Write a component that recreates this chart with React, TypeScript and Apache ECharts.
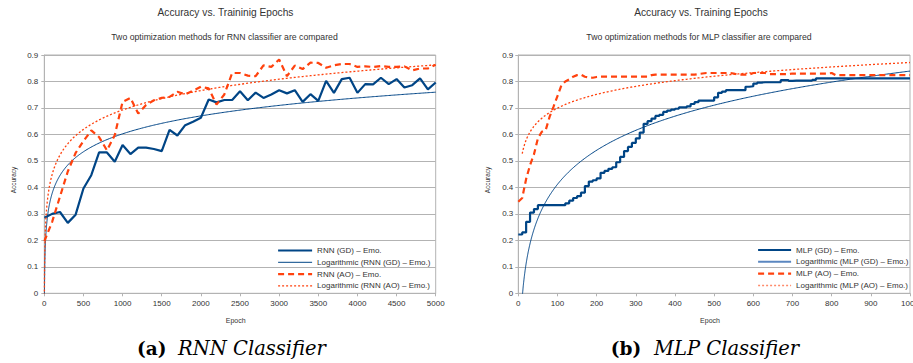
import React, { useEffect, useRef } from 'react';
import * as echarts from 'echarts';

// ---------- RNN classifier (left chart) ----------
const rnnEpochs = [1, 100, 200, 300, 400, 500, 600, 700, 800, 900, 1000, 1100, 1200, 1300, 1400, 1500, 1600, 1700, 1800, 1900, 2000,
  2100, 2200, 2300, 2400, 2500, 2600, 2700, 2800, 2900, 3000, 3100, 3200, 3300, 3400, 3500, 3600, 3700, 3800, 3900, 4000,
  4100, 4200, 4300, 4400, 4500, 4600, 4700, 4800, 4900, 5000];
const rnnGD = [0.285, 0.30, 0.307, 0.266, 0.297, 0.396, 0.446, 0.532, 0.532, 0.497, 0.56, 0.526, 0.55, 0.55, 0.545, 0.537, 0.617, 0.596, 0.635, 0.648, 0.663,
  0.732, 0.721, 0.73, 0.73, 0.763, 0.729, 0.758, 0.738, 0.751, 0.767, 0.755, 0.767, 0.723, 0.752, 0.727, 0.802, 0.757, 0.809, 0.814, 0.757,
  0.79, 0.789, 0.814, 0.79, 0.809, 0.777, 0.786, 0.812, 0.77, 0.796];
const rnnAO = [0.197, 0.27, 0.365, 0.46, 0.53, 0.575, 0.615, 0.59, 0.54, 0.597, 0.723, 0.738, 0.679, 0.711, 0.729, 0.738, 0.742, 0.761, 0.751, 0.765, 0.78,
  0.774, 0.713, 0.751, 0.832, 0.832, 0.822, 0.82, 0.861, 0.855, 0.883, 0.82, 0.86, 0.847, 0.871, 0.87, 0.852, 0.861, 0.866, 0.866, 0.855,
  0.857, 0.855, 0.858, 0.855, 0.855, 0.857, 0.842, 0.849, 0.849, 0.863];

// ---------- MLP classifier (right chart) ----------
const mlpEpochs = [0, 10, 20, 30, 40, 50, 60, 70, 80, 90, 100, 110, 120, 130, 140, 150, 160, 170, 180, 190, 200,
  210, 220, 230, 240, 250, 260, 270, 280, 290, 300, 310, 320, 330, 340, 350, 360, 370, 380, 390, 400,
  410, 420, 430, 440, 450, 460, 470, 480, 490, 500, 510, 520, 530, 540, 550, 560, 570, 580, 590, 600,
  610, 620, 630, 640, 650, 660, 670, 680, 690, 700, 710, 720, 730, 740, 750, 760, 770, 780, 790, 800,
  810, 820, 830, 840, 850, 860, 870, 880, 890, 900, 910, 920, 930, 940, 950, 960, 970, 980, 990, 1000];
const mlpGD = [0.222, 0.23, 0.27, 0.305, 0.318, 0.333, 0.333, 0.333, 0.333, 0.333, 0.333, 0.333, 0.34, 0.35, 0.36, 0.367, 0.38, 0.405, 0.422, 0.427, 0.434,
  0.455, 0.462, 0.47, 0.476, 0.495, 0.515, 0.537, 0.553, 0.568, 0.585, 0.607, 0.64, 0.65, 0.66, 0.67, 0.674, 0.685, 0.69, 0.694, 0.697,
  0.702, 0.702, 0.706, 0.715, 0.722, 0.728, 0.728, 0.728, 0.728, 0.74, 0.757, 0.762, 0.767, 0.767, 0.767, 0.767, 0.767, 0.78, 0.782, 0.792,
  0.796, 0.797, 0.797, 0.797, 0.797, 0.797, 0.805, 0.805, 0.802, 0.803, 0.803, 0.803, 0.803, 0.803, 0.806, 0.812, 0.812, 0.812, 0.812, 0.812,
  0.812, 0.812, 0.812, 0.812, 0.812, 0.812, 0.812, 0.812, 0.812, 0.812, 0.812, 0.812, 0.812, 0.812, 0.812, 0.812, 0.812, 0.812, 0.812, 0.812];
const mlpAO = [0.346, 0.36, 0.432, 0.484, 0.525, 0.585, 0.61, 0.617, 0.667, 0.705, 0.745, 0.785, 0.80, 0.808, 0.818, 0.824, 0.826, 0.818, 0.815, 0.814, 0.817,
  0.818, 0.818, 0.818, 0.818, 0.818, 0.818, 0.818, 0.818, 0.818, 0.818, 0.818, 0.818, 0.818, 0.824, 0.826, 0.826, 0.826, 0.826, 0.826, 0.826,
  0.826, 0.826, 0.826, 0.826, 0.826, 0.828, 0.83, 0.832, 0.832, 0.832, 0.832, 0.832, 0.832, 0.832, 0.83, 0.826, 0.826, 0.826, 0.826, 0.832,
  0.832, 0.832, 0.832, 0.828, 0.828, 0.828, 0.828, 0.828, 0.828, 0.83, 0.83, 0.83, 0.83, 0.83, 0.83, 0.83, 0.83, 0.83, 0.83, 0.832,
  0.824, 0.824, 0.824, 0.824, 0.824, 0.824, 0.824, 0.824, 0.824, 0.824, 0.824, 0.824, 0.824, 0.824, 0.824, 0.824, 0.824, 0.824, 0.824, 0.824];

const rnnNames = ['RNN (GD) – Emo.', 'Logarithmic (RNN (GD) – Emo.)', 'RNN (AO) – Emo.', 'Logarithmic (RNN (AO) – Emo.)'];
const mlpNames = ['MLP (GD) – Emo.', 'Logarithmic (MLP (GD) – Emo.)', 'MLP (AO) – Emo.', 'Logarithmic (MLP (AO) – Emo.)'];

const BLUE = '#004586';
const ORANGE = '#ff420e';
const FONT = 'Liberation Sans, Arial, sans-serif';

// Logarithmic least-squares trendline (y = a + b ln x) over the points with x > 0
function logTrend(xs: number[], ys: number[]): number[][] {
  const pts = xs.map((x, i) => [x, ys[i]]).filter((p) => p[0] > 0);
  const n = pts.length;
  let sx = 0, sy = 0, sxx = 0, sxy = 0;
  pts.forEach(([x, y]) => {
    const l = Math.log(x);
    sx += l; sy += y; sxx += l * l; sxy += l * y;
  });
  const b = (n * sxy - sx * sy) / (n * sxx - sx * sx);
  const a = (sy - b * sx) / n;
  const xmin = pts[0][0];
  const xmax = pts[n - 1][0];
  const samples: number[] = [];
  const count = 300;
  for (let i = 0; i <= count; i++) {
    samples.push(xmin * Math.pow(xmax / xmin, i / count));
    samples.push(xmin + ((xmax - xmin) * i) / count);
  }
  samples.sort((p, q) => p - q);
  return samples.map((x) => [x, a + b * Math.log(x)]);
}

const pair = (xs: number[], ys: number[]) => xs.map((x, i) => [x, ys[i]]);

function axisX(gridIndex: number, max: number, interval: number) {
  return {
    gridIndex, type: 'value', min: 0, max, interval,
    axisLine: { show: true, lineStyle: { color: '#b3b3b3', width: 1 } },
    axisTick: { show: true, length: 3, lineStyle: { color: '#b3b3b3' } },
    axisLabel: {
      fontSize: 8, color: '#333', margin: 6, fontFamily: FONT, formatter: (v: number) => String(v),
      alignMinLabel: 'center', alignMaxLabel: 'center', hideOverlap: false,
    },
    splitLine: { show: false },
  };
}
function axisY(gridIndex: number, margin: number) {
  return {
    gridIndex, type: 'value', min: 0, max: 0.9, interval: 0.1,
    axisLine: { show: true, lineStyle: { color: '#b3b3b3', width: 1 } },
    axisTick: { show: true, length: 3, lineStyle: { color: '#b3b3b3' } },
    axisLabel: { fontSize: 8, color: '#333', margin, fontFamily: FONT, formatter: (v: number) => String(Math.round(v * 10) / 10) },
    splitLine: { show: true, lineStyle: { color: '#b3b3b3', width: 1 } },
  };
}

function seriesSet(names: string[], idx: number, xs: number[], gd: number[], ao: number[], stepGD: boolean) {
  return [
    {
      name: names[0], type: 'line', xAxisIndex: idx, yAxisIndex: idx, data: pair(xs, gd),
      symbol: 'none', step: stepGD ? 'end' : false, lineStyle: { color: BLUE, width: 2.2 }, itemStyle: { color: BLUE },
    },
    {
      name: names[1], type: 'line', xAxisIndex: idx, yAxisIndex: idx, data: logTrend(xs, gd),
      symbol: 'none', lineStyle: { color: BLUE, width: 1 }, itemStyle: { color: BLUE },
    },
    {
      name: names[2], type: 'line', xAxisIndex: idx, yAxisIndex: idx, data: pair(xs, ao),
      symbol: 'none', lineStyle: { color: ORANGE, width: 2.2, type: [6, 4] }, itemStyle: { color: ORANGE },
    },
    {
      name: names[3], type: 'line', xAxisIndex: idx, yAxisIndex: idx, data: logTrend(xs, ao),
      symbol: 'none', lineStyle: { color: ORANGE, width: 1.3, type: [2, 2] }, itemStyle: { color: ORANGE },
    },
  ];
}

function txt(text: string, x: number, y: number, fontSize: number, extra: any = {}) {
  return {
    type: 'text', x, y, silent: true,
    style: {
      text, fontSize, fontFamily: FONT, fill: '#333', align: 'center', verticalAlign: 'middle', ...extra,
    },
  };
}
function caption(label: string, title: string, x1: number, x2: number) {
  return [
    {
      type: 'text', x: x1, y: 348, silent: true,
      style: { text: label, fontSize: 18.5, fontWeight: 'bold', fontFamily: 'DejaVu Serif, serif', fill: '#000', align: 'left', verticalAlign: 'middle' },
    },
    {
      type: 'text', x: x2, y: 348, silent: true,
      style: { text: title, fontSize: 19.5, fontStyle: 'italic', fontFamily: 'DejaVu Serif, serif', fill: '#000', align: 'left', verticalAlign: 'middle' },
    },
  ];
}

export default function App() {
  const ref = useRef<HTMLDivElement>(null);
  useEffect(() => {
    if (!ref.current) return;
    const chart = echarts.init(ref.current, undefined, { renderer: 'svg' });
    const legendBase = {
      orient: 'vertical', padding: 0, itemHeight: 8, itemGap: 3.8,
      textStyle: { fontSize: 8, color: '#333', fontFamily: FONT },
      itemStyle: { opacity: 0, borderWidth: 0 },
      selectedMode: false,
    };
    chart.setOption({
      animation: false,
      backgroundColor: '#fff',
      grid: [
        { left: 44.3, top: 55, width: 391.4, height: 238.3, show: true, borderColor: '#b3b3b3', borderWidth: 1, containLabel: false, outerBoundsMode: 'none' },
        { left: 518.3, top: 55, width: 391.7, height: 238.3, show: true, borderColor: '#b3b3b3', borderWidth: 1, containLabel: false, outerBoundsMode: 'none' },
      ],
      xAxis: [axisX(0, 5000, 500), axisX(1, 1000, 100)],
      yAxis: [axisY(0, 6), axisY(1, 5)],
      legend: [
        {
          ...legendBase, left: 277, top: 246.5, itemWidth: 34,
          data: [
            { name: rnnNames[0], lineStyle: { width: 2.2 } },
            { name: rnnNames[1], lineStyle: { width: 1 } },
            { name: rnnNames[2], lineStyle: { width: 2.2, type: [6, 4] } },
            { name: rnnNames[3], lineStyle: { width: 1.3, type: [2, 2] } },
          ],
        },
        {
          ...legendBase, left: 757, top: 246, itemWidth: 33,
          data: [
            { name: mlpNames[0], lineStyle: { width: 2.2 } },
            { name: mlpNames[1], lineStyle: { color: '#5b87c0', width: 2 } },
            { name: mlpNames[2], lineStyle: { width: 2.2, type: [6, 4] } },
            { name: mlpNames[3], lineStyle: { color: '#ff8a6a', width: 1.5, type: [2, 2] } },
          ],
        },
      ],
      series: [
        ...seriesSet(rnnNames, 0, rnnEpochs, rnnGD, rnnAO, false),
        ...seriesSet(mlpNames, 1, mlpEpochs, mlpGD, mlpAO, true),
      ],
      graphic: [
        txt('Accuracy vs. Traininig Epochs', 225.5, 12.5, 10.2),
        txt('Two optimization methods for RNN classifier are compared', 224.5, 36.7, 8.7),
        txt('Accuracy vs. Training Epochs', 701, 12.5, 10.2),
        txt('Two optimization methods for MLP classifier are compared', 699, 36.7, 8.7),
        { ...txt('Accuracy', 13.5, 180, 6.5), rotation: Math.PI / 2 },
        { ...txt('Accuracy', 487.3, 180, 6.5), rotation: Math.PI / 2 },
        txt('Epoch', 235.7, 320.7, 7),
        txt('Epoch', 710, 320.7, 7),
        ...caption('(a)', 'RNN Classifier', 137, 178),
        ...caption('(b)', 'MLP Classifier', 610.7, 654),
      ],
    });
    return () => chart.dispose();
  }, []);
  return <div ref={ref} style={{ position: 'absolute', left: 0, top: 0, width: 913, height: 363 }} />;
}
